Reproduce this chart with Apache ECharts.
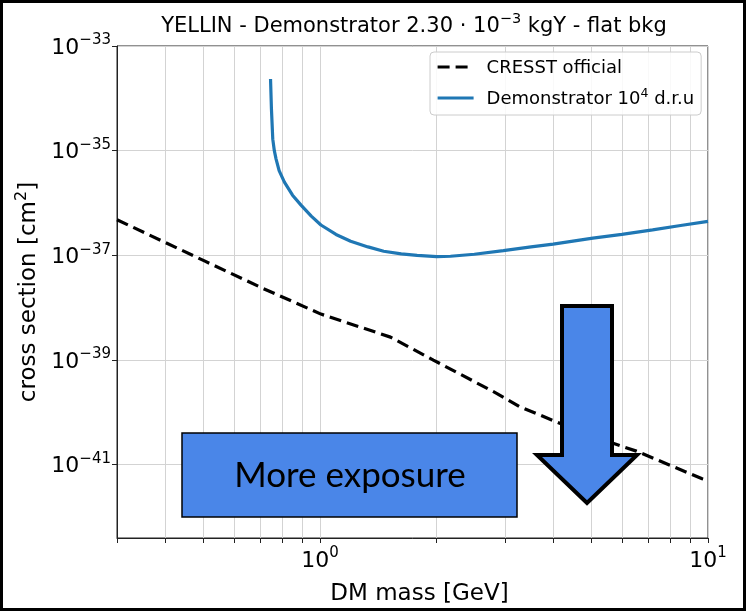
<!DOCTYPE html>
<html><head><meta charset="utf-8">
<script src="https://cdn.jsdelivr.net/npm/echarts@6/dist/echarts.min.js"></script>
<style>html,body{margin:0;padding:0;background:#fff}#c{width:746px;height:611px}</style>
</head><body><div id="c"></div>
<script>
// ---- data ----
const cresstMass  = [0.3, 0.504, 0.706, 1.006, 1.52, 1.96, 2.86, 3.27, 4.15, 5.67, 6.54, 9.66, 10];
const cresstSigma = [4.79e-37, 7.83e-38, 2.42e-38, 7.55e-39, 2.74e-39, 1.0e-39, 2.29e-40, 1.29e-40, 6.18e-41, 2.59e-41, 1.82e-41, 5.38e-42, 5.0e-42];
const demoMass  = [0.746, 0.750, 0.756, 0.763, 0.771, 0.785, 0.81, 0.85, 0.894, 0.95, 1.006, 1.1, 1.2, 1.33, 1.46, 1.62, 1.78, 2.0, 2.17, 2.5, 2.97, 3.5, 3.99, 5.05, 6.0, 7.2, 8.5, 10];
const demoSigma = [2.34e-34, 6.31e-35, 1.66e-35, 1.0e-35, 6.92e-36, 4.17e-36, 2.51e-36, 1.41e-36, 9.12e-37, 5.62e-37, 3.80e-37, 2.51e-37, 1.86e-37, 1.45e-37, 1.20e-37, 1.07e-37, 1.0e-37, 9.44e-38, 9.62e-38, 1.05e-37, 1.23e-37, 1.45e-37, 1.64e-37, 2.13e-37, 2.51e-37, 3.06e-37, 3.72e-37, 4.47e-37];
const xTickValues  = [0.3, 0.4, 0.5, 0.6, 0.7, 0.8, 0.9, 1, 2, 3, 4, 5, 6, 7, 8, 9, 10];
const xLabelValues = [1, 10];
const yTickExponents = [-41, -39, -37, -35, -33];   // tick labels 10^-41 ... 10^-33 (cm^2)
const yMinExponent = -42.4, yMaxExponent = -33;
const seriesNames = ['CRESST official', 'Demonstrator 10^4 d.r.u'];

// ECharts' log scale rounds tiny numbers (1e-41) to 0, so the y values are
// handed to the axis in units of 1e-38 cm^2; labels show the true exponent.
const UNIT_EXP = -38;
const toUnit = v => v * Math.pow(10, -UNIT_EXP);

const FONT = 'DejaVu Sans';
function pairs(xs, ys){ return xs.map((x,i)=>[x, toUnit(ys[i])]); }
function labelX(v){
  const e = Math.round(Math.log10(v));
  return '{b|10}{s|' + (e < 0 ? '\u2212' : '') + Math.abs(e) + '}';
}
function labelY(v){
  const e = Math.round(Math.log10(v)) + UNIT_EXP;
  return '{b|10}{s|' + (e < 0 ? '\u2212' : '') + Math.abs(e) + '}';
}
const tickRich = {
  b: {fontSize: 22, fontFamily: FONT, fontWeight: 'normal', color: '#000', verticalAlign: 'bottom', lineHeight: 26},
  s: {fontSize: 15, fontFamily: FONT, fontWeight: 'normal', color: '#000', verticalAlign: 'bottom', lineHeight: 17, padding: [0,0,11,0]}
};

const chart = echarts.init(document.getElementById('c'), null, {renderer: 'canvas'});
chart.setOption({
  backgroundColor: '#fff',
  animation: false,
  title: {
    text: '{a|YELLIN - Demonstrator 2.30 · 10}{s|\u22123}{a| kgY - flat bkg}',
    left: 409, top: 7, textAlign: 'center',
    textStyle: {
      fontWeight: 'normal',
      rich: {
        a: {fontSize: 21, fontFamily: FONT, fontWeight: 'normal', color: '#000', verticalAlign: 'bottom', lineHeight: 25},
        s: {fontSize: 14.5, fontFamily: FONT, fontWeight: 'normal', color: '#000', verticalAlign: 'bottom', lineHeight: 17, padding: [0,0,10,0]}
      }
    }
  },
  grid: {left: 117, right: 38, top: 46, bottom: 67, show: true, borderColor: '#222', borderWidth: 1, backgroundColor: 'transparent'},
  legend: {
    orient: 'vertical', left: 430, top: 52,
    padding: [7, 7, 7, 6], itemGap: 10, itemWidth: 36, itemHeight: 14,
    backgroundColor: 'rgba(255,255,255,0.85)', borderColor: '#cccccc', borderWidth: 1, borderRadius: 4,
    itemStyle: {opacity: 0},
    lineStyle: {width: 3.2},
    data: seriesNames,
    formatter: function(name){
      if (name.indexOf('^') >= 0) {
        const p = name.split('^');
        const rest = p[1];
        return '{t|' + p[0] + '}{s|' + rest.charAt(0) + '}{t|' + rest.slice(1) + '}';
      }
      return '{t|' + name + '}';
    },
    textStyle: {
      padding: [0,0,0,8],
      rich: {
        t: {fontSize: 18, fontFamily: FONT, color: '#000', verticalAlign: 'bottom', lineHeight: 20},
        s: {fontSize: 12.5, fontFamily: FONT, color: '#000', verticalAlign: 'bottom', lineHeight: 14, padding: [0,0,8,0]}
      }
    }
  },
  xAxis: {
    type: 'log', logBase: 10, min: 0.3, max: 10,
    name: 'DM mass [GeV]', nameLocation: 'middle', nameGap: 45,
    nameTextStyle: {fontSize: 23, fontFamily: FONT, color: '#000', padding: [0,0,0,14]},
    axisLine: {show: true, onZero: false, lineStyle: {color: '#222', width: 1}},
    axisTick: {show: true, length: 5, customValues: xTickValues, lineStyle: {color: '#222'}},
    axisLabel: {customValues: xLabelValues, margin: 8, formatter: labelX, rich: tickRich},
    splitLine: {show: true, lineStyle: {color: '#d3d3d3', width: 1}},
    minorTick: {show: false}
  },
  yAxis: {
    type: 'log', logBase: 10,
    min: Math.pow(10, yMinExponent - UNIT_EXP), max: Math.pow(10, yMaxExponent - UNIT_EXP),
    name: '{a|cross section [cm}{s|2}{a|]}', nameLocation: 'middle', nameGap: 68, nameRotate: 90,
    nameTextStyle: {
      rich: {
        a: {fontSize: 23, fontFamily: FONT, color: '#000', verticalAlign: 'bottom', lineHeight: 27},
        s: {fontSize: 16, fontFamily: FONT, color: '#000', verticalAlign: 'bottom', lineHeight: 18, padding: [0,0,11,0]}
      }
    },
    axisLine: {show: true, onZero: false, lineStyle: {color: '#222', width: 1}},
    axisTick: {show: true, length: 5, customValues: yTickExponents.map(e => Math.pow(10, e - UNIT_EXP)), lineStyle: {color: '#222'}},
    axisLabel: {customValues: yTickExponents.map(e => Math.pow(10, e - UNIT_EXP)), margin: 6, formatter: labelY, rich: tickRich},
    splitLine: {show: true, lineStyle: {color: '#d3d3d3', width: 1}}
  },
  series: [
    {
      name: seriesNames[0], type: 'line', data: pairs(cresstMass, cresstSigma),
      showSymbol: false, symbol: 'none', clip: true,
      lineStyle: {color: '#000', width: 3.2, type: [12, 6]},
      itemStyle: {color: '#000'}, z: 3
    },
    {
      name: seriesNames[1], type: 'line', data: pairs(demoMass, demoSigma),
      showSymbol: false, symbol: 'none', clip: true,
      lineStyle: {color: '#1f77b4', width: 3.2},
      itemStyle: {color: '#1f77b4'}, z: 3
    }
  ],
  graphic: [
    {type: 'rect', shape: {x: 182, y: 433, width: 335, height: 84}, z: 100,
     style: {fill: '#4a86e8', stroke: '#000', lineWidth: 1.5}},
    {type: 'text', x: 350, y: 476, z: 101,
     style: {text: 'More exposure', font: '35px Lato', fill: '#000', textAlign: 'center', textVerticalAlign: 'middle'}},
    {type: 'polygon', z: 100,
     shape: {points: [[562,306],[612,306],[612,455],[637,455],[587,503],[537,455],[562,455]]},
     style: {fill: '#4a86e8', stroke: '#000', lineWidth: 4, lineJoin: 'miter'}},
    {type: 'rect', shape: {x: 1.5, y: 1.5, width: 743, height: 608}, z: 200,
     style: {fill: 'none', stroke: '#000', lineWidth: 3}}
  ]
});
</script>
</body></html>
